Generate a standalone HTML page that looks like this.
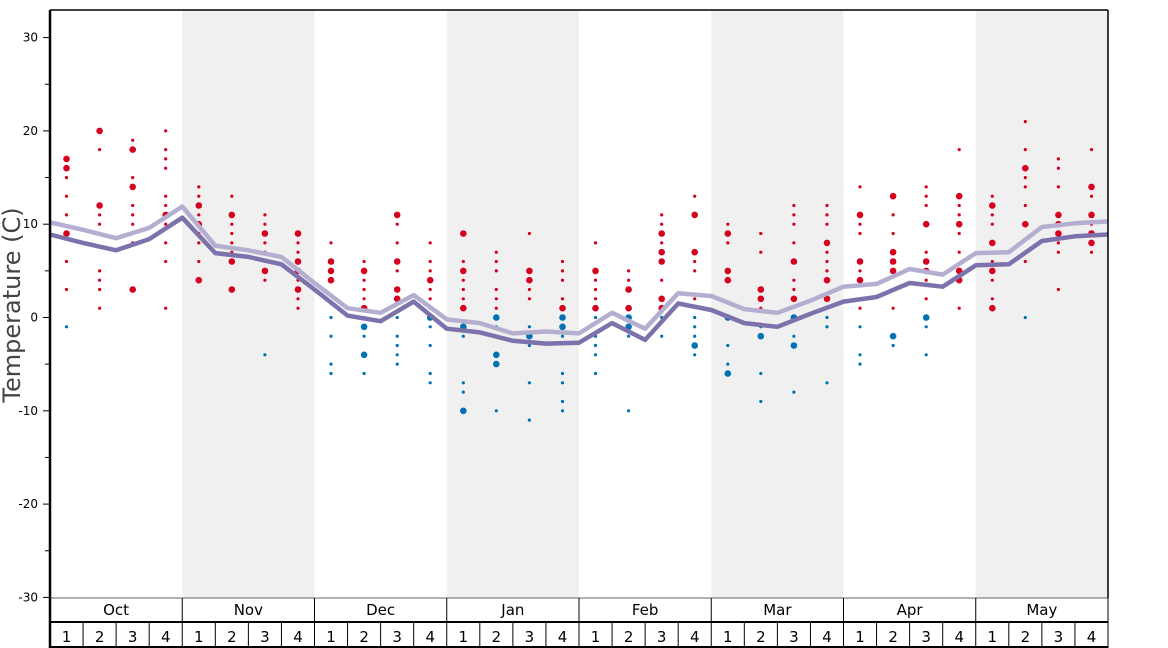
<!DOCTYPE html>
<html><head><meta charset="utf-8"><style>
body{margin:0;background:#fff}
svg{display:block;font-family:"DejaVu Sans","Liberation Sans",sans-serif}
</style></head><body>
<svg id="s" width="1168" height="648" xmlns="http://www.w3.org/2000/svg">
<rect x="182.25" y="10" width="132.25" height="588" fill="#f0f0f0"/>
<rect x="446.75" y="10" width="132.25" height="588" fill="#f0f0f0"/>
<rect x="711.25" y="10" width="132.25" height="588" fill="#f0f0f0"/>
<rect x="975.75" y="10" width="132.25" height="588" fill="#f0f0f0"/>
<g id="g"></g>
<text x="20" y="305" font-size="24" fill="#444" text-anchor="middle" transform="rotate(-90 20 305)">Temperature (C)</text>
</svg>
<script>
var g=document.getElementById('g'),h='';
function Y(t){return 317.5-t*9.33}
var W=33.0625;
var ax='';
for(var t=-30;t<=30;t+=5){var y=Y(t);var big=t%10==0;ax+='<line x1="'+(big?43:45)+'" x2="50" y1="'+y+'" y2="'+y+'" stroke="#000"/>';if(big)ax+='<text x="38" y="'+(y+4)+'" font-size="12" text-anchor="end">'+t+'</text>';}
var d=[
"17L,16L,15,13,11,9L,6,3,-1","20L,18,12L,11,10,9,5,4,3,1","19,18L,15,14L,12,11,10,8,3L","20,18,17,16,13,12,11L,10,8,6,1",
"14,13,12L,11,10L,9,8,6,4L","13,11L,10,9,8,7,6L,3L","11,10,9L,8,7,5L,4,-4","9L,8,7,6L,5L,4,3L,2,1",
"8,6L,5L,4L,0,-2,-5,-6","6,5L,4,3,2,1L,0,-1L,-2,-4L,-6","11L,10,8,6L,5,3L,2L,0,-2,-3,-4,-5","8,6,5,4L,3,2,1,0L,-1,-3,-6,-7",
"9L,6,5L,4,3,2,1L,-1L,-2,-7,-8,-10L","7,6,5,3,2,1,0L,-1,-2,-4L,-5L,-10","9,5L,4L,3,2,-1,-2L,-3,-7,-11","6,5,4,2,1L,0L,-1L,-2,-6,-7,-9,-10",
"8,5L,4,3,2,1L,0,-2,-3,-4,-6","5,4,3L,1L,0L,-1L,-2,-10","11,10,9L,8,7L,6L,4,2L,1L,0,-2","13,11L,7L,6,5,2,0,-1,-2,-3L,-4",
"10,9L,8,5L,4L,0L,-3,-5,-6L","9,7,3L,2L,1,-1,-2L,-6,-9","12,11,10,8,6L,4,3,2L,0L,-2,-3L,-8","12,11,10,8L,7,6,5,4L,2L,0,-1,-7",
"14,11L,10,9,6L,5,4L,1,-1,-4,-5","13L,11,9,7L,6L,5L,3,1,-2L,-3","14,13,12,10L,7,6L,5L,4,2,0L,-1,-4","18,13L,12,11,10L,9,7,5L,4L,1",
"13,12L,11,10,8L,7,6,5L,4,2,1L","21,18,16L,15,14,12,10L,7,6,0","17,16,14,11L,10L,9L,8,7,3","18,14L,13,11L,10,9L,8L,7"];
d.forEach(function(s,i){var x=50+W*(i+0.5);s.split(',').forEach(function(v){var L=v.indexOf('L')>=0;var t=parseFloat(v);
h+='<circle cx="'+x.toFixed(1)+'" cy="'+Y(t).toFixed(1)+'" r="'+(L?3.3:1.6)+'" fill="'+(t>0?'#d5001e':'#0071b3')+'"/>';});});
var dk=[8.9,8.0,7.2,8.4,10.7,6.9,6.5,5.7,3.0,0.2,-0.4,1.7,-1.2,-1.6,-2.5,-2.8,-2.7,-0.6,-2.4,1.5,0.8,-0.6,-1.0,0.4,1.7,2.2,3.7,3.3,5.6,5.7,8.2,8.7,8.9];
var lt=[10.2,9.4,8.5,9.6,11.9,7.7,7.2,6.5,3.7,1.0,0.5,2.4,-0.2,-0.6,-1.7,-1.5,-1.7,0.5,-1.2,2.6,2.3,0.9,0.5,1.8,3.3,3.6,5.2,4.6,6.9,7.0,9.7,10.1,10.3];
function pl(a,c){return '<polyline fill="none" stroke="'+c+'" stroke-width="4.5" stroke-linejoin="round" points="'+a.map(function(t,k){return (50+W*k).toFixed(1)+','+Y(t).toFixed(1)}).join(' ')+'"/>'}
h+=pl(lt,'#b4aed1')+pl(dk,'#7d72ab');
var m=['Oct','Nov','Dec','Jan','Feb','Mar','Apr','May'];
h+='<line x1="50" x2="1108" y1="598" y2="598" stroke="#666"/>';
h+='<line x1="50" x2="1108" y1="622" y2="622" stroke="#000" stroke-width="2"/>';
h+='<line x1="50" x2="1108" y1="647" y2="647" stroke="#000" stroke-width="2"/>';
m.forEach(function(n,j){var x=50+132.25*j;h+='<line x1="'+x+'" x2="'+x+'" y1="598" y2="622" stroke="#000"/><text x="'+(x+66.1)+'" y="615" font-size="15" text-anchor="middle">'+n+'</text>';});
for(var i=0;i<32;i++){var x=50+W*i;h+='<line x1="'+x+'" x2="'+x+'" y1="622" y2="648" stroke="#000"/><text x="'+(x+W/2)+'" y="642" font-size="15" text-anchor="middle">'+(i%4+1)+'</text>';}
h+='<line x1="1108" x2="1108" y1="598" y2="648" stroke="#000"/>';
h+='<line x1="50" x2="50" y1="10" y2="648" stroke="#000" stroke-width="2.5"/>';
h+='<line x1="1108" x2="1108" y1="10" y2="598" stroke="#000" stroke-width="1.5"/>';
h+='<line x1="50" x2="1108" y1="10" y2="10" stroke="#000" stroke-width="1.5"/>';
g.innerHTML=ax+h;
</script>
</body></html>
